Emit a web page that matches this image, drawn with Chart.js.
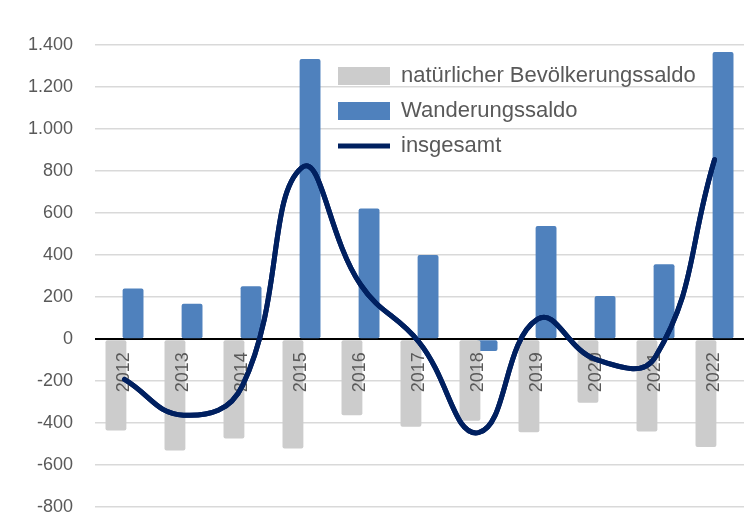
<!DOCTYPE html>
<html>
<head>
<meta charset="utf-8">
<script src="https://cdn.jsdelivr.net/npm/chart.js@4/dist/chart.umd.min.js"></script>
<style>
  html, body { margin: 0; padding: 0; background: #ffffff; overflow: hidden; }
  /* canvas is a bit taller than the window: the space chart.js keeps below the axis falls outside */
  #wrap { width: 755px; height: 540px; position: relative; }
</style>
</head>
<body>
<div id="wrap"><canvas id="chart"></canvas></div>
<script>
// values
const years = ['2012', '2013', '2014', '2015', '2016', '2017', '2018', '2019', '2020', '2021', '2022']
const natuerlich = [-435, -530, -473, -521, -362, -417, -388, -443, -303, -440, -513]
const wanderung = [241, 168, 252, 1333, 622, 400, -57, 538, 205, 356, 1367]
const insgesamt = [-192, -362, -221, 815, 260, -17, -445, 95, -98, -84, 854]
const yMin = -800, yMax = 1400, yStep = 200

const textColor = '#595959'
const fontFamily = '"Liberation Sans", Arial, sans-serif'

// german thousands separator
function fmtDe(v) {
    return String(v).replace(/\B(?=(\d{3})+(?!\d))/g, '.')
}

// move the legend (drawn inside the chart area) to its spot at top right
const legendSpot = {
    id: 'legendSpot',
    afterLayout(chart) {
        const lg = chart.legend
        if (!lg) return
        const pad = lg.options.labels.padding
        lg.left = 338 - pad
        lg.top = 65 - pad
        lg.right = lg.left + lg.width
        lg.bottom = chart.chartArea.bottom
    }
}

// year labels sit above the bars, the line goes over them again
const lineOnTop = {
    id: 'lineOnTop',
    afterDraw(chart) {
        const meta = chart.getDatasetMeta(2)
        const a = chart.chartArea
        const c = chart.ctx
        c.save()
        c.beginPath()
        c.rect(a.left, a.top, a.right - a.left, a.bottom - a.top)
        c.clip()
        meta.controller.draw()
        c.restore()
    }
}

const ctx = document.getElementById('chart').getContext('2d')
new Chart(ctx, {
    type: 'bar',
    data: {
        labels: years,
        datasets: [
            {
                label: 'natürlicher Bevölkerungssaldo',
                data: natuerlich,
                backgroundColor: '#cccccc',
                borderWidth: 0,
                borderRadius: 2,
                borderSkipped: false,
                categoryPercentage: 0.58,
                barPercentage: 1.22,
                pointStyle: 'rect',
                order: 1
            },
            {
                label: 'Wanderungssaldo',
                data: wanderung,
                backgroundColor: '#4f81bd',
                borderWidth: 0,
                borderRadius: 2,
                borderSkipped: false,
                categoryPercentage: 0.58,
                barPercentage: 1.22,
                pointStyle: 'rect',
                order: 2
            },
            {
                type: 'line',
                label: 'insgesamt',
                data: insgesamt,
                borderColor: '#002060',
                backgroundColor: '#002060',
                borderWidth: 5,
                borderCapStyle: 'round',
                pointRadius: 0,
                pointStyle: 'line',
                tension: 0.45,
                fill: false,
                order: 0
            }
        ]
    },
    options: {
        responsive: true,
        maintainAspectRatio: false,
        animation: false,
        layout: { padding: { top: 45, right: 11, bottom: 0, left: 0 } },
        scales: {
            x: {
                position: { y: 0 },
                afterFit(scale) { scale.height = 0 },
                grid: { display: false },
                border: { display: false },
                ticks: {
                    z: 1,
                    color: textColor,
                    font: { family: fontFamily, size: 18 },
                    minRotation: 90,
                    maxRotation: 90,
                    padding: 5
                }
            },
            y: {
                min: yMin,
                max: yMax,
                afterFit(scale) { scale.width = 95 },
                border: { display: false },
                grid: {
                    drawTicks: false,
                    color: (c) => c.tick && c.tick.value === 0 ? '#000000' : '#d9d9d9',
                    lineWidth: (c) => c.tick && c.tick.value === 0 ? 2 : 1.5
                },
                ticks: {
                    stepSize: yStep,
                    color: textColor,
                    font: { family: fontFamily, size: 18 },
                    padding: 22,
                    callback: (v) => fmtDe(v)
                }
            }
        },
        plugins: {
            legend: {
                position: 'chartArea',
                align: 'start',
                labels: {
                    usePointStyle: true,
                    pointStyleWidth: 52,
                    boxHeight: 18,
                    padding: 13,
                    color: textColor,
                    font: { family: fontFamily, size: 22 },
                    sort: (a, b) => a.datasetIndex - b.datasetIndex
                }
            },
            tooltip: { enabled: false }
        }
    },
    plugins: [legendSpot, lineOnTop]
})
</script>
</body>
</html>
